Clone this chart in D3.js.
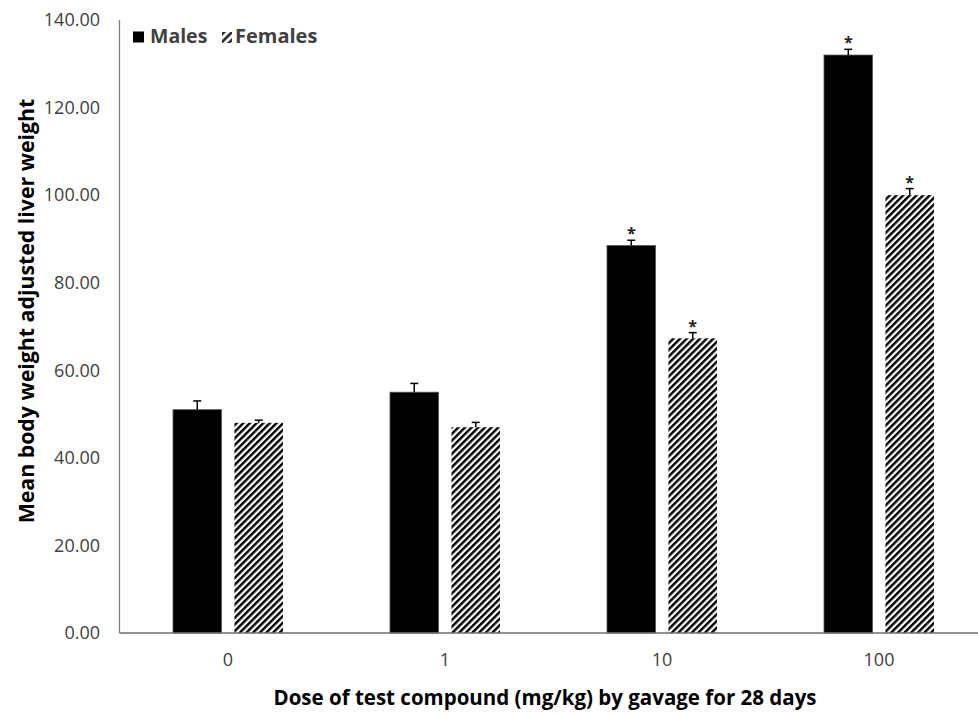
<!DOCTYPE html>
<html>
<head>
<meta charset="utf-8">
<script src="https://cdn.jsdelivr.net/npm/d3@7"></script>
<style>
  html, body { margin: 0; padding: 0; background: #fff; }
  svg { display: block; }
  text { font-family: "Open Sans", "DejaVu Sans", sans-serif; }
</style>
</head>
<body>
<svg id="chart" width="978" height="713"></svg>
<script>
const doses = ["0", "1", "10", "100"];
const series = ["Males", "Females"];
const malesMean = [51, 55, 88.5, 132];
const femalesMean = [48, 47, 67.3, 100];
const malesErr = [2, 2, 1.2, 1.3];
const femalesErr = [0.6, 1.1, 1.3, 1.5];
const malesSig = [false, false, true, true];
const femalesSig = [false, false, true, true];
const yTicks = [0, 20, 40, 60, 80, 100, 120, 140];

(function () {
const svg = d3.select("#chart");
const W = 978, H = 713;
const mLeft = 119.5, mTop = 20, mBottom = 633, mRight = 987.5;

const defs = svg.append("defs");
const pat = defs.append("pattern")
  .attr("id", "hatch")
  .attr("patternUnits", "userSpaceOnUse")
  .attr("width", 4.7).attr("height", 4.7)
  .attr("patternTransform", "rotate(45)");
pat.append("rect").attr("width", 4.7).attr("height", 4.7).attr("fill", "#fff");
pat.append("line").attr("x1", 1.2).attr("y1", 0).attr("x2", 1.2).attr("y2", 4.7)
  .attr("stroke", "#000").attr("stroke-width", 2.5);

const pat2 = defs.append("pattern")
  .attr("id", "hatchLegend")
  .attr("patternUnits", "userSpaceOnUse")
  .attr("width", 5.5).attr("height", 5.5)
  .attr("patternTransform", "translate(222,32) rotate(45)");
pat2.append("rect").attr("width", 5.5).attr("height", 5.5).attr("fill", "#fff");
pat2.append("line").attr("x1", 1.6).attr("y1", 0).attr("x2", 1.6).attr("y2", 5.5)
  .attr("stroke", "#222").attr("stroke-width", 2.6);

const x0 = d3.scaleBand().domain(doses).range([mLeft, mRight]).paddingInner(0).paddingOuter(0);
const x1 = d3.scaleBand().domain(series).range([-55, 55]).paddingInner(0.21);
const y = d3.scaleLinear().domain([0, 140]).range([mBottom, mTop]);

// y tick labels
svg.append("g").selectAll("text").data(yTicks).join("text")
  .attr("x", 100).attr("y", d => y(d)).attr("dy", "0.35em")
  .attr("text-anchor", "end").attr("font-size", 18).attr("fill", "#404040")
  .text(d => d.toFixed(2));

// x tick labels
svg.append("g").selectAll("text").data(doses).join("text")
  .attr("x", d => x0(d) + x0.bandwidth() / 2).attr("y", 666)
  .attr("text-anchor", "middle").attr("font-size", 18).attr("fill", "#404040")
  .text(d => d);

const data = [];
doses.forEach((d, i) => {
  data.push({ dose: d, s: "Males", v: malesMean[i], e: malesErr[i], sig: malesSig[i] });
  data.push({ dose: d, s: "Females", v: femalesMean[i], e: femalesErr[i], sig: femalesSig[i] });
});
const bx = d => x0(d.dose) + x0.bandwidth() / 2 + x1(d.s);

// bars
svg.append("g").selectAll("rect").data(data).join("rect")
  .attr("x", bx).attr("y", d => y(d.v))
  .attr("width", x1.bandwidth()).attr("height", d => y(0) - y(d.v))
  .attr("fill", d => d.s === "Males" ? "#000" : "url(#hatch)")
  .attr("stroke", d => d.s === "Males" ? "#555" : "none").attr("stroke-width", 0.8);

// error bars (upper only)
const eb = svg.append("g").attr("stroke", "#000").attr("stroke-width", 1.5);
data.forEach(d => {
  const cx = bx(d) + x1.bandwidth() / 2;
  eb.append("line").attr("x1", cx).attr("x2", cx).attr("y1", y(d.v)).attr("y2", y(d.v + d.e));
  eb.append("line").attr("x1", cx - 4).attr("x2", cx + 4).attr("y1", y(d.v + d.e)).attr("y2", y(d.v + d.e));
});

// significance stars
svg.append("g").selectAll("text").data(data.filter(d => d.sig)).join("text")
  .attr("x", d => bx(d) + x1.bandwidth() / 2)
  .attr("y", d => y(d.v + d.e) - 1)
  .attr("text-anchor", "middle").attr("font-size", 16).attr("font-weight", "bold")
  .attr("fill", "#222")
  .text("*");

// axes lines
svg.append("line").attr("x1", mLeft).attr("x2", mLeft).attr("y1", mTop).attr("y2", mBottom)
  .attr("stroke", "#7f7f7f").attr("stroke-width", 1.3);
svg.append("line").attr("x1", mLeft).attr("x2", W).attr("y1", mBottom).attr("y2", mBottom)
  .attr("stroke", "#6f6f6f").attr("stroke-width", 1.5);

// legend
const lg = svg.append("g");
lg.append("rect").attr("x", 133).attr("y", 31.5).attr("width", 11).attr("height", 11).attr("fill", "#000");
lg.append("text").attr("x", 150).attr("y", 43).attr("font-size", 19.5).attr("font-weight", "bold")
  .attr("fill", "#404040").text(series[0]);
lg.append("rect").attr("x", 222).attr("y", 32).attr("width", 10).attr("height", 11).attr("fill", "url(#hatchLegend)");
lg.append("text").attr("x", 235).attr("y", 43).attr("font-size", 20).attr("font-weight", "bold")
  .attr("fill", "#404040").text(series[1]);

// axis titles
svg.append("text").attr("x", 545).attr("y", 705).attr("text-anchor", "middle")
  .attr("font-size", 20.5).attr("font-weight", "bold").attr("fill", "#000")
  .text("Dose of test compound (mg/kg) by gavage for 28 days");
svg.append("text").attr("transform", "translate(34,311) rotate(-90)")
  .attr("text-anchor", "middle")
  .attr("font-size", 21.3).attr("font-weight", "bold").attr("fill", "#000")
  .text("Mean body weight adjusted liver weight");
})();
</script>
</body>
</html>
